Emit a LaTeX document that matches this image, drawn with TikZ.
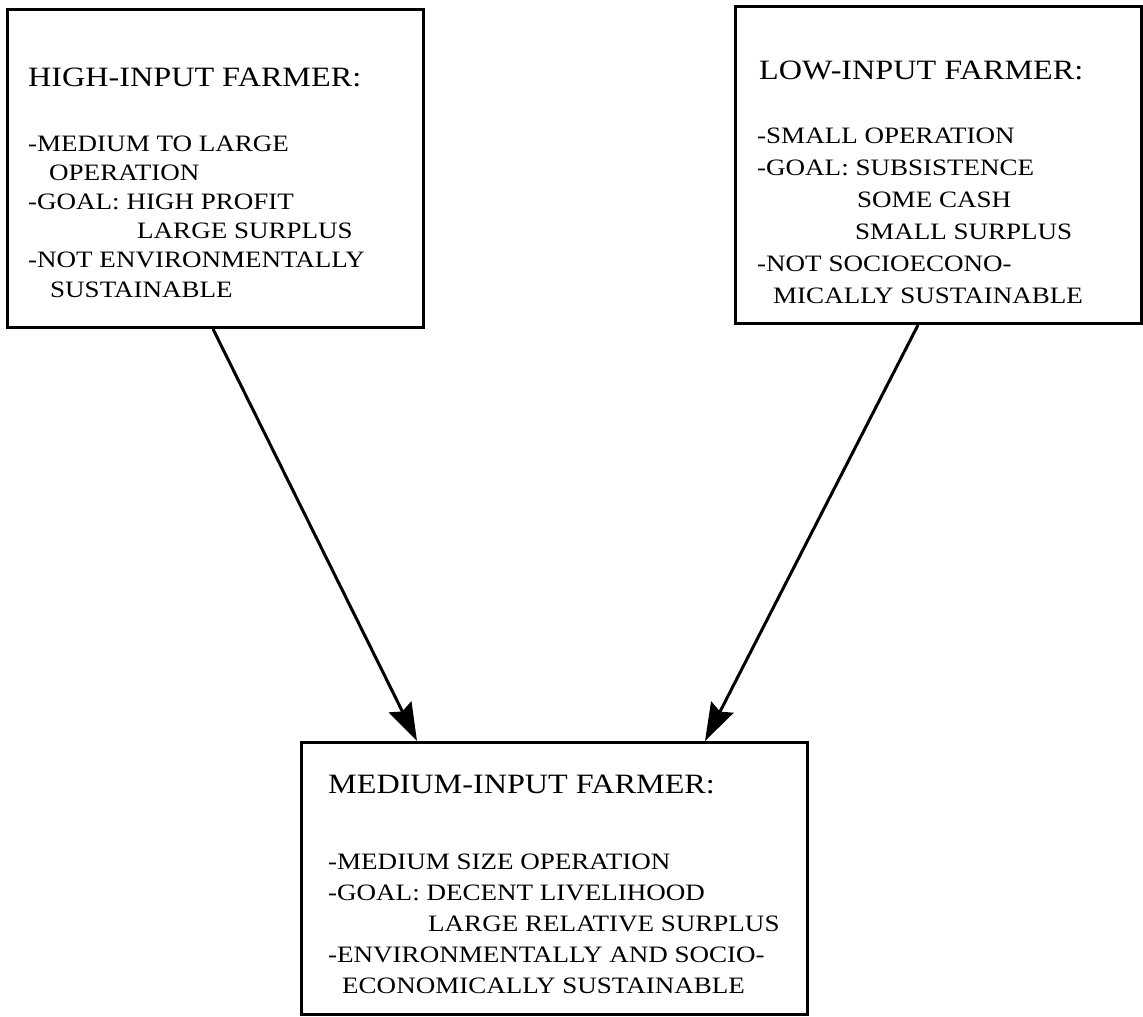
\documentclass[tikz,border=0pt]{standalone}
\usepackage{fontspec}
\setmainfont{Liberation Serif}[FakeStretch=1.15]
\usetikzlibrary{arrows.meta,calc}

\tikzset{
  box/.style={draw=black, line width=3pt, rectangle, inner sep=0pt, anchor=north west},
  head/.style={anchor=base west, inner sep=0pt, font=\fontsize{28}{28}\selectfont},
  item/.style={anchor=base west, inner sep=0pt, font=\fontsize{23.5}{28}\selectfont},
  link/.style={line width=3pt, -{Stealth[length=38pt, width=25pt, inset=5pt]}},
}

\begin{document}
\begin{tikzpicture}[x=1pt, y=-1pt]
  \useasboundingbox (0,0) rectangle (1143,1017);

  % the three farmer boxes
  \node[box, minimum width=416pt, minimum height=318pt] (hi)  at (6,8) {};
  \node[box, minimum width=406pt, minimum height=317pt] (lo)  at (734,5) {};
  \node[box, minimum width=506pt, minimum height=272pt] (med) at (300,741) {};

  % high-input farmer
  \node[head] (hiT) at (28,86)  {HIGH-INPUT FARMER:};
  \node[item] (hi1) at (28,151) {-MEDIUM TO LARGE};
  \node[item] (hi2) at (49,180) {OPERATION};
  \node[item] (hi3) at (28,209) {-GOAL: HIGH PROFIT};
  \node[item] (hi4) at (137,238) {LARGE SURPLUS};
  \node[item] (hi5) at (28,267) {-NOT ENVIRONMENTALLY};
  \node[item] (hi6) at (50,297) {SUSTAINABLE};

  % low-input farmer
  \node[head] (loT) at (759,79)  {LOW-INPUT FARMER:};
  \node[item] (lo1) at (757,143) {-SMALL OPERATION};
  \node[item] (lo2) at (757,175) {-GOAL: SUBSISTENCE};
  \node[item] (lo3) at (857,207) {SOME CASH};
  \node[item] (lo4) at (855,239) {SMALL SURPLUS};
  \node[item] (lo5) at (757,271) {-NOT SOCIOECONO-};
  \node[item] (lo6) at (773,303) {MICALLY SUSTAINABLE};

  % medium-input farmer
  \node[head] (medT) at (328,793) {MEDIUM-INPUT FARMER:};
  \node[item] (med1) at (328,869) {-MEDIUM SIZE OPERATION};
  \node[item] (med2) at (328,900) {-GOAL: DECENT LIVELIHOOD};
  \node[item] (med3) at (428,931) {LARGE RELATIVE SURPLUS};
  \node[item] (med4) at (328,962) {-ENVIRONMENTALLY AND SOCIO-};
  \node[item] (med5) at (342,993) {ECONOMICALLY SUSTAINABLE};

  % arrows into the medium-input box
  \draw[link] ($(hi.south west)+(207,0)$) -- ($(med.north west)+(117,0)$);
  \draw[link] ($(lo.south west)+(184,0)$) -- ($(med.north west)+(405,0)$);
\end{tikzpicture}
\end{document}
